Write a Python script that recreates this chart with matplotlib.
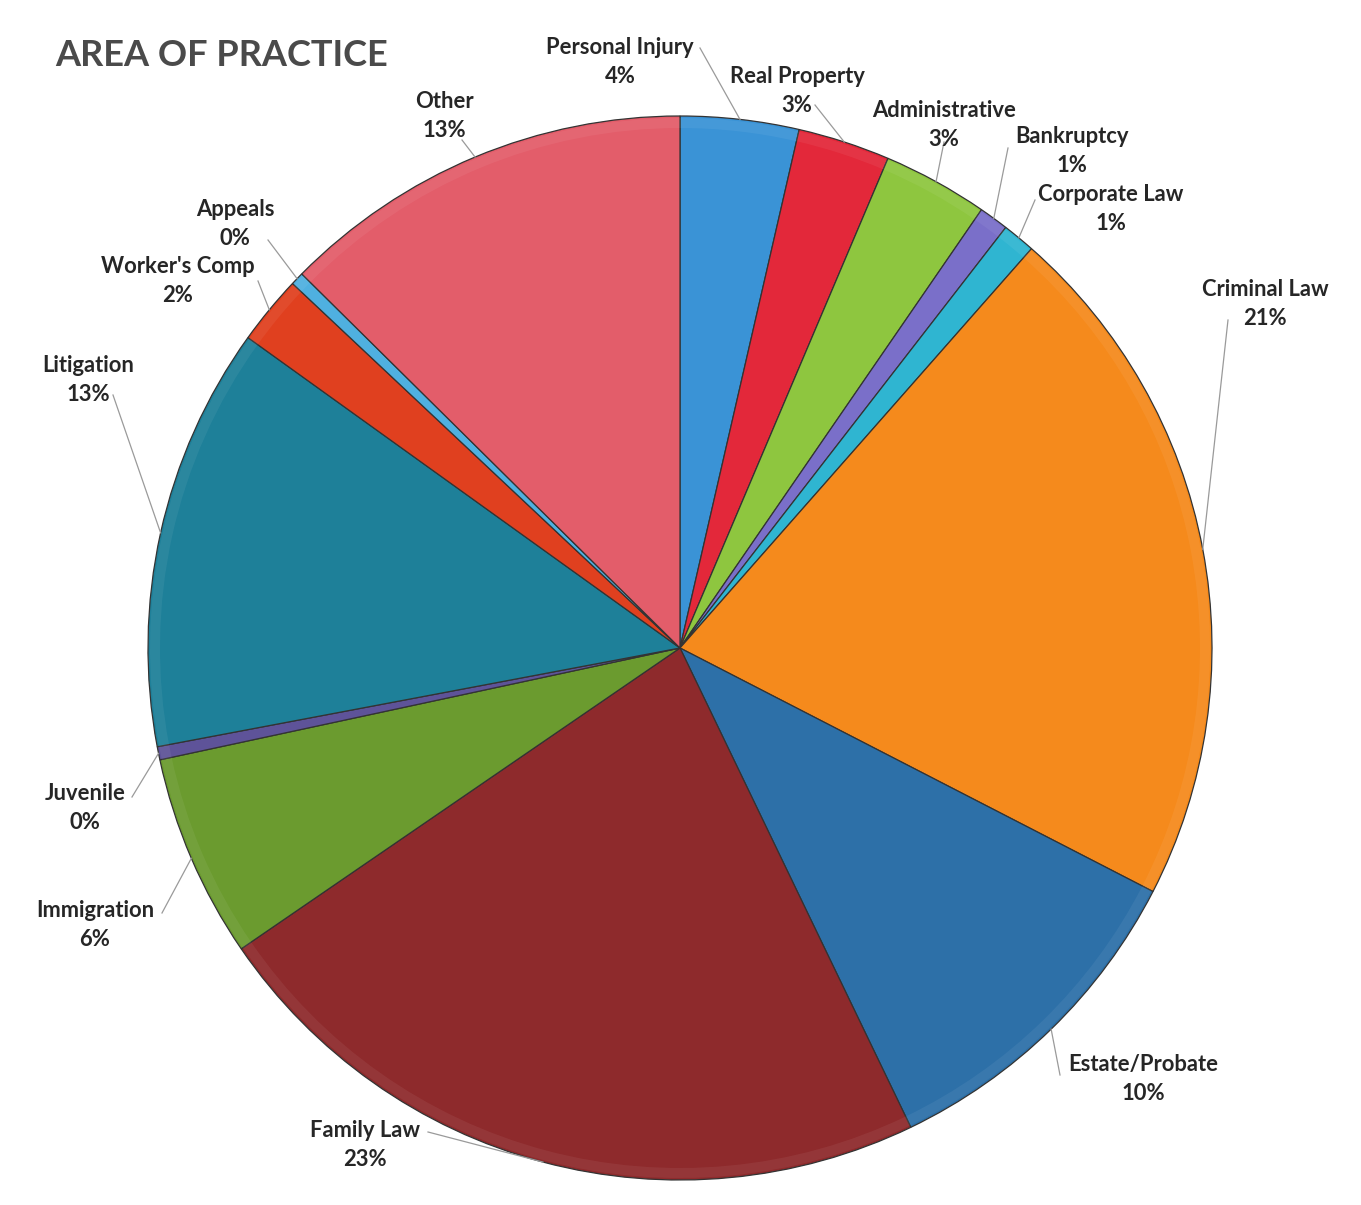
import numpy as np
import matplotlib
matplotlib.use('Agg')
import matplotlib.pyplot as plt

# Data (clockwise from 12 o'clock)
areas = ['Personal Injury', 'Real Property', 'Administrative', 'Bankruptcy',
         'Corporate Law', 'Criminal Law', 'Estate/Probate', 'Family Law',
         'Immigration', 'Juvenile', 'Litigation', "Worker's Comp", 'Appeals', 'Other']
shares = [3.6, 2.8, 3.2, 0.9, 1.0, 21.1, 10.3, 22.6, 6.2, 0.4, 12.9, 2.1, 0.4, 12.6]

colors = ['#3a93d6', '#e3283a', '#8ec63f', '#7a6fc9', '#2fb5d1', '#f58a1c',
          '#2d70a8', '#8e2a2c', '#6b9b2f', '#5e5399', '#1e8099', '#e0401f',
          '#4fb0e0', '#e35d6a']

# label centres (pixels from top-left) and leader start points
label_pos = [(620, 62), (797, 91), (944, 125), (1072, 151), (1111, 209),
             (1265, 304), (1143, 1079), (365, 1145), (95, 925), (85, 808),
             (88, 380), (178, 281), (235, 224), (444, 116)]
leader_start = [(700, 48), (815, 105), (944, 142), (1008, 148), (1035, 200),
                (1228, 320), (1060, 1075), (428, 1132), (162, 913), (132, 797),
                (113, 395), (258, 281), (268, 240), (462, 140)]

W, H = 1361, 1205
plt.rcParams['font.family'] = ['Lato', 'DejaVu Sans']

fig = plt.figure(figsize=(W / 100, H / 100), dpi=100)
fig.patch.set_facecolor('white')
ax = fig.add_axes([0, 0, 1, 1])

cx, cy, R = 680, H - 648, 532
wedges, _ = ax.pie(shares, colors=colors, startangle=90, counterclock=False,
                   center=(cx, cy), radius=R, frame=True,
                   wedgeprops=dict(edgecolor='#333333', linewidth=0.9))
ax.set_xlim(0, W)
ax.set_ylim(0, H)
ax.set_aspect('equal')
ax.axis('off')

# faint lighter rim for a bevel look
for w in wedges:
    ax.add_patch(matplotlib.patches.Wedge((cx, cy), R - 2, w.theta1, w.theta2, width=10,
                                          facecolor='white', alpha=0.06, linewidth=0))

total = sum(shares)
for i, w in enumerate(wedges):
    pct = shares[i] / total * 100
    lx, ly = label_pos[i]
    ax.text(lx, H - ly, f"{areas[i]}\n{pct:.0f}%", ha='center', va='center',
            fontsize=15.8, fontweight='bold', color='#262626', linespacing=1.45)
    mid = np.deg2rad((w.theta1 + w.theta2) / 2)
    ex, ey = cx + R * np.cos(mid), cy + R * np.sin(mid)
    sx, sy = leader_start[i]
    ax.plot([sx, ex], [H - sy, ey], color='#9a9a9a', lw=0.9)

ax.text(55, H - 55, 'AREA OF PRACTICE', ha='left', va='center', fontsize=26,
        fontweight='bold', color='#4a4a4a')

fig.savefig('out.png', dpi=100, facecolor='white')
